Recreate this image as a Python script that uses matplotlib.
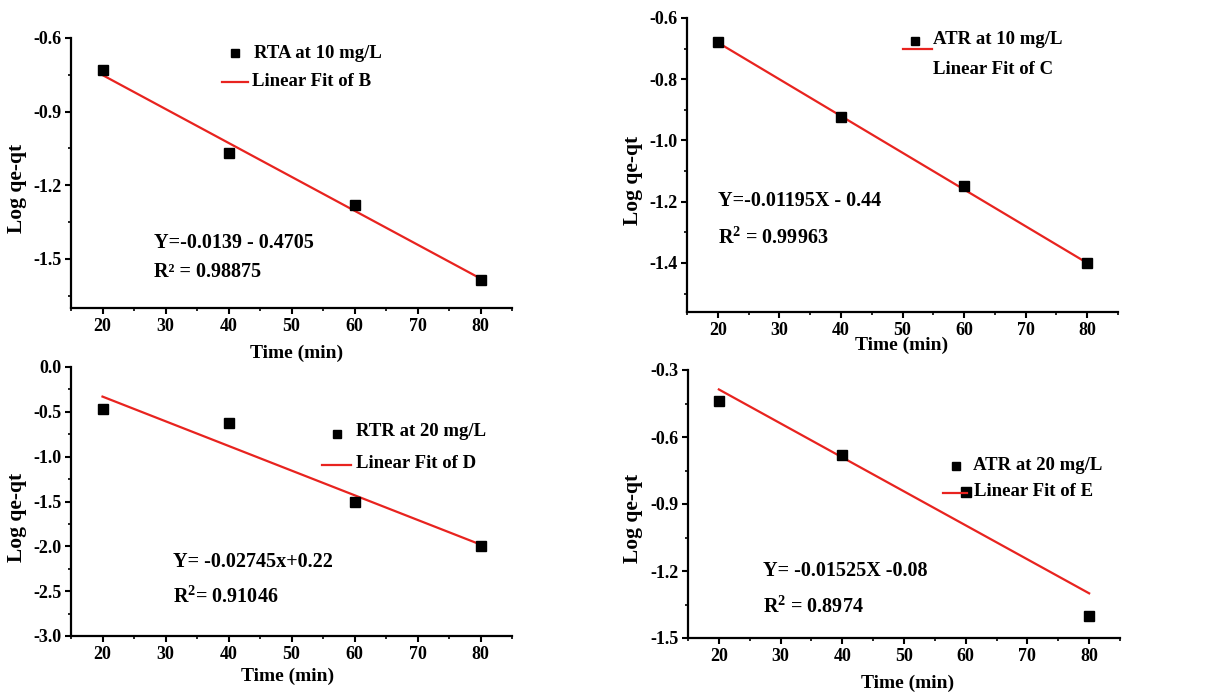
import numpy as np
import matplotlib
matplotlib.use("Agg")
import matplotlib.pyplot as plt
from matplotlib.ticker import MultipleLocator

plt.rcParams['font.family'] = ['Liberation Serif', 'DejaVu Serif']
plt.rcParams['font.weight'] = 'bold'
plt.rcParams['axes.unicode_minus'] = False
plt.rcParams['mathtext.fontset'] = 'custom'
plt.rcParams['mathtext.rm'] = 'Liberation Serif:bold'
plt.rcParams['mathtext.bf'] = 'Liberation Serif:bold'
plt.rcParams['mathtext.it'] = 'Liberation Serif:bold'

# data
time_min = [20, 40, 60, 80]
fit_x = [20, 80]

rta_10 = [-0.73, -1.07, -1.28, -1.585]
fit_b = [-0.751, -1.58]

atr_10 = [-0.68, -0.923, -1.149, -1.40]
fit_c = [-0.68, -1.40]

rtr_20 = [-0.47, -0.62, -1.51, -2.00]
fit_d = [-0.33, -1.98]

atr_20 = [-0.44, -0.681, -0.848, -1.403]
fit_e = [-0.387, -1.30]

W, H = 1213, 694

def px_axes(l, r, t, b):
    return [l / W, (H - b) / H, (r - l) / W, (b - t) / H]

fig = plt.figure(figsize=(W / 100, H / 100), dpi=100)

panels = [
    dict(box=(71, 512, 38, 308), y=rta_10, fit=fit_b, ylim=(-1.70, -0.6), major=0.3,
         leg=["RTA at 10 mg/L", "Linear Fit of B"],
         eq="Y=-0.0139 - 0.4705", r2="R\u00b2 = 0.98875"),
    dict(box=(687, 1118, 18, 312), y=atr_10, fit=fit_c, ylim=(-1.56, -0.6), major=0.2,
         leg=["ATR at 10 mg/L", "Linear Fit of C"],
         eq="Y=-0.01195X - 0.44", r2=r"R$^{2}$ = 0.99963"),
    dict(box=(71, 512, 367, 636), y=rtr_20, fit=fit_d, ylim=(-3.0, 0.0), major=0.5,
         leg=["RTR at 20 mg/L", "Linear Fit of D"],
         eq="Y= -0.02745x+0.22", r2=r"R$^{2}$= 0.91046"),
    dict(box=(688, 1120, 370, 638), y=atr_20, fit=fit_e, ylim=(-1.5, -0.3), major=0.3,
         leg=["ATR at 20 mg/L", "Linear Fit of E"],
         eq="Y= -0.01525X -0.08", r2=r"R$^{2}$ = 0.8974"),
]

# legend / annotation placement in pixels (marker, line, text, eq)
layout = [
    dict(mk=(235, 53), ln=(222, 248, 82), t1=(254, 53), t2=(252, 81),
         eq=(154, 243), r2=(154, 272), ylab=(17, 188), xlab=(297, 353)),
    dict(mk=(915, 41), ln=(903, 932, 49), t1=(933, 40), t2=(933, 70),
         eq=(718, 201), r2=(718, 238), ylab=(633, 180), xlab=(902, 345)),
    dict(mk=(337, 434), ln=(322, 351, 465), t1=(356, 432), t2=(356, 463),
         eq=(173, 562), r2=(173, 597), ylab=(17, 517), xlab=(288, 676)),
    dict(mk=(956, 466), ln=(943, 967, 493), t1=(973, 465), t2=(974, 492),
         eq=(763, 571), r2=(763, 607), ylab=(633, 518), xlab=(908, 683)),
]

def fx(x):
    return x / W

def fy(y):
    return (H - y) / H

for p, lo in zip(panels, layout):
    ax = fig.add_axes(px_axes(*p['box']))
    ax.plot(time_min, p['y'], 's', color='black', markersize=7.5, zorder=3)
    ax.plot(fit_x, p['fit'], '-', color='#e8231f', linewidth=1.6, zorder=2)
    ax.set_xlim(15, 85)
    ax.set_ylim(*p['ylim'])
    ax.xaxis.set_major_locator(MultipleLocator(10))
    ax.xaxis.set_minor_locator(MultipleLocator(5))
    ax.yaxis.set_major_locator(MultipleLocator(p['major']))
    ax.yaxis.set_minor_locator(MultipleLocator(p['major'] / 2))
    ax.spines['top'].set_visible(False)
    ax.spines['right'].set_visible(False)
    ax.spines['left'].set_linewidth(1.6)
    ax.spines['bottom'].set_linewidth(1.6)
    ax.tick_params(which='major', direction='out', length=4, width=1.5, labelsize=13, pad=3)
    ax.tick_params(which='minor', direction='out', length=2.5, width=1.2)
    ax.set_xticks([20, 30, 40, 50, 60, 70, 80])
    for lab in ax.get_xticklabels() + ax.get_yticklabels():
        lab.set_fontweight('bold')
    ax.set_facecolor('none')

    # hand-placed legend
    fig.lines.append(plt.Line2D([fx(lo['mk'][0])], [fy(lo['mk'][1])], marker='s',
                                color='black', markersize=5.5, linestyle='none',
                                transform=fig.transFigure))
    x0, x1, yl = lo['ln']
    fig.lines.append(plt.Line2D([fx(x0), fx(x1)], [fy(yl), fy(yl)], color='#e8231f',
                                linewidth=1.6, transform=fig.transFigure))
    fig.text(fx(lo['t1'][0]), fy(lo['t1'][1]), p['leg'][0], fontsize=13.5,
             fontweight='bold', va='center', ha='left')
    fig.text(fx(lo['t2'][0]), fy(lo['t2'][1]), p['leg'][1], fontsize=13.5,
             fontweight='bold', va='center', ha='left')

    fig.text(fx(lo['eq'][0]), fy(lo['eq'][1]), p['eq'], fontsize=14.5,
             fontweight='bold', va='center', ha='left')
    fig.text(fx(lo['r2'][0]), fy(lo['r2'][1]), p['r2'], fontsize=14.5,
             fontweight='bold', va='center', ha='left')

    fig.text(fx(lo['ylab'][0]), fy(lo['ylab'][1]), 'Log qe-qt', fontsize=15.5,
             fontweight='bold', rotation=90, va='center', ha='center')
    fig.text(fx(lo['xlab'][0]), fy(lo['xlab'][1]), 'Time (min)', fontsize=14,
             fontweight='bold', va='center', ha='center')

fig.savefig('out.png', dpi=100)
